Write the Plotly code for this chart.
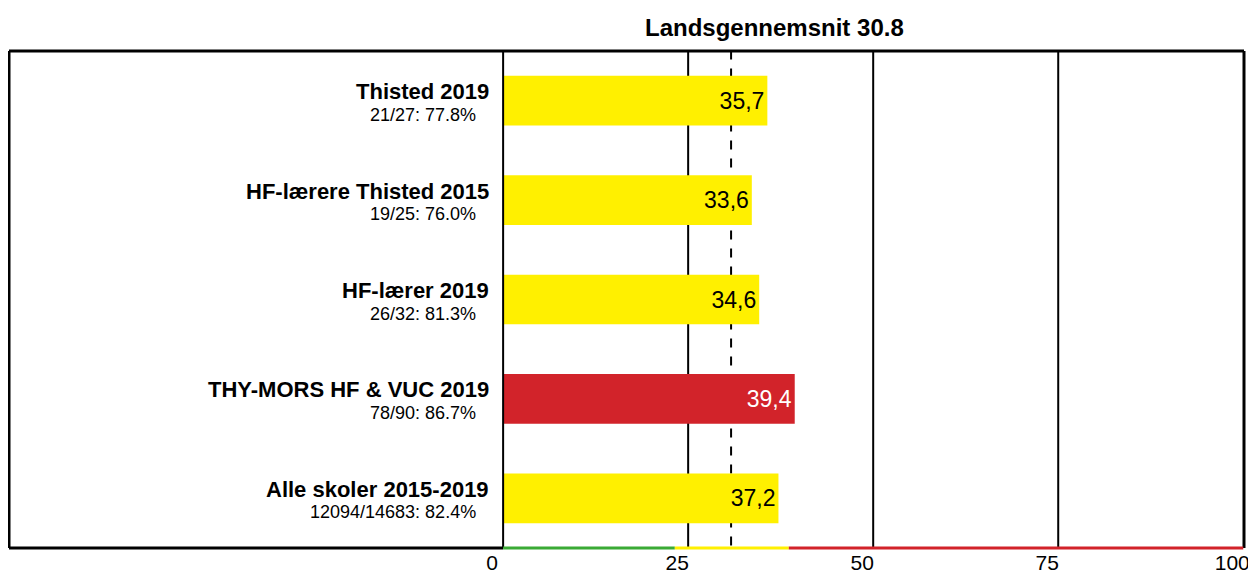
import plotly.graph_objects as go

categories = ["Thisted 2019", "HF-lærere Thisted 2015", "HF-lærer 2019",
              "THY-MORS HF & VUC 2019", "Alle skoler 2015-2019"]
subtitles = ["21/27: 77.8%", "19/25: 76.0%", "26/32: 81.3%", "78/90: 86.7%", "12094/14683: 82.4%"]
values = [35.7, 33.6, 34.6, 39.4, 37.2]
national_avg = 30.8
low_threshold = 23.2
high_threshold = 38.6
tick_vals = [0, 25, 50, 75, 100]
grid_vals = [25, 50, 75]

YELLOW = "#FFF000"
RED = "#D2232A"
GREEN = "#3AAA35"
FONT = "Liberation Sans, Arial"

def color_for(v):
    if v < low_threshold:
        return GREEN
    if v <= high_threshold:
        return YELLOW
    return RED

bar_colors = [color_for(v) for v in values]
text_colors = ["white" if c == RED else "black" for c in bar_colors]
ypos = list(range(len(categories)))

fig = go.Figure()
fig.add_trace(go.Bar(
    x=values, y=ypos, orientation="h",
    marker=dict(color=bar_colors, line=dict(width=0)),
    width=0.5,
    text=[f"{v:.1f}".replace(".", ",") for v in values],
    textposition="inside", insidetextanchor="end",
    textfont=dict(size=23, color=text_colors, family=FONT),
    textangle=0, cliponaxis=False, hoverinfo="skip",
))

shapes = []
for g in grid_vals:
    shapes.append(dict(type="line", xref="x", yref="paper", x0=g, x1=g, y0=0, y1=1,
                       line=dict(color="black", width=2), layer="below"))
shapes.append(dict(type="line", xref="x", yref="paper", x0=0, x1=0, y0=0, y1=1,
                   line=dict(color="black", width=2)))
shapes.append(dict(type="line", xref="x", yref="paper", x0=national_avg, x1=national_avg,
                   y0=0.005, y1=1, line=dict(color="black", width=2, dash="dash"), layer="below"))
shapes.append(dict(type="line", xref="paper", yref="paper", x0=0, x1=1, y0=1, y1=1,
                   line=dict(color="black", width=3)))
shapes.append(dict(type="line", xref="paper", yref="paper", x0=0, x1=0, y0=0, y1=1,
                   line=dict(color="black", width=3)))
shapes.append(dict(type="line", xref="paper", yref="paper", x0=1, x1=1, y0=0, y1=1,
                   line=dict(color="black", width=3)))
shapes.append(dict(type="line", xref="x", yref="paper", x0=-66.76, x1=0, y0=0, y1=0,
                   line=dict(color="black", width=3)))
for x0, x1, c in [(0, low_threshold, GREEN), (low_threshold, high_threshold, YELLOW),
                  (high_threshold, 100, RED)]:
    shapes.append(dict(type="line", xref="x", yref="paper", x0=x0, x1=x1, y0=0, y1=0,
                       line=dict(color=c, width=3)))

annotations = []
for i, (c, s) in enumerate(zip(categories, subtitles)):
    annotations.append(dict(x=-1.6, y=i, xref="x", yref="y", text=f"<b>{c}</b>",
                            showarrow=False, xanchor="right", yanchor="middle", yshift=9,
                            font=dict(size=22, color="black", family=FONT)))
    annotations.append(dict(x=-3.4, y=i, xref="x", yref="y", text=s,
                            showarrow=False, xanchor="right", yanchor="middle", yshift=-14,
                            font=dict(size=18, color="black", family=FONT)))
annotations.append(dict(x=0.620, y=1, xref="paper", yref="paper", yshift=24,
                        text=f"<b>Landsgennemsnit {national_avg}</b>",
                        showarrow=False, xanchor="center", yanchor="middle",
                        font=dict(size=24, color="black", family=FONT)))

# page body adds an 8px offset; size the figure so the plot frame lands where the reference has it
fig.update_layout(
    template="none",
    width=1248, height=570,
    margin=dict(l=1, r=12, t=43, b=30, autoexpand=False),
    paper_bgcolor="white", plot_bgcolor="white",
    showlegend=False, bargap=0.5,
    xaxis=dict(range=[-66.76, 100.1], tickvals=tick_vals, ticktext=[str(t) for t in tick_vals],
               showgrid=False, zeroline=False, showline=False, ticks="",
               ticklabelshift=-11, ticklabelstandoff=0, automargin=False,
               tickfont=dict(size=21, color="black", family=FONT),
               fixedrange=True),
    yaxis=dict(range=[4.5, -0.5], showticklabels=False, showgrid=False, zeroline=False,
               showline=False, ticks="", automargin=False, fixedrange=True),
    shapes=shapes, annotations=annotations,
)

fig.write_html("out.html")
